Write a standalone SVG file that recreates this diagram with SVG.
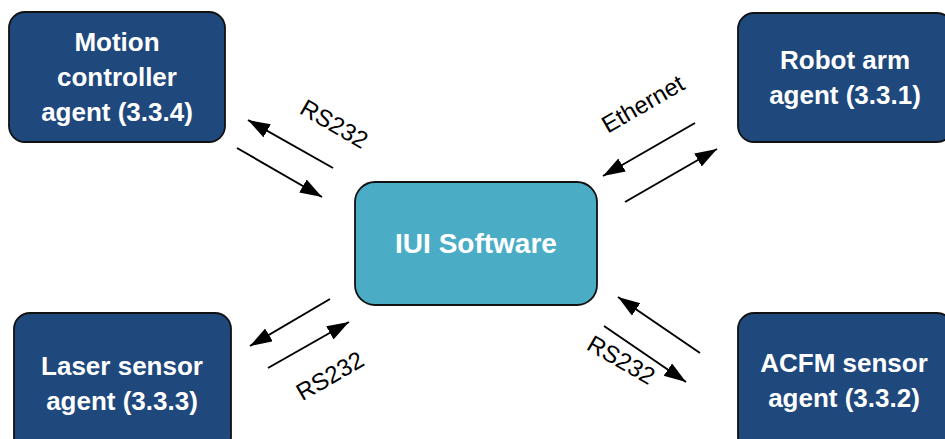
<svg xmlns="http://www.w3.org/2000/svg" width="945" height="439" viewBox="0 0 945 439">
<style>
.agent{fill:#1F487C;stroke:#111;stroke-width:1.8}
.core{fill:#4BACC6;stroke:#111;stroke-width:1.8}
.lbl{font-family:"Liberation Sans",Arial,sans-serif;font-weight:bold;font-size:26px;fill:#fff;text-anchor:middle}
.cl{font-family:"Liberation Sans",Arial,sans-serif;font-size:24px;fill:#000;text-anchor:middle}
.conn{stroke:#000;stroke-width:2;fill:none;marker-end:url(#ah)}
</style>
<defs>
<marker id="ah" markerUnits="userSpaceOnUse" markerWidth="24" markerHeight="16" refX="22" refY="7.5" orient="auto">
<path d="M0,0 L22,7.5 L0,15 z" fill="#000"/>
</marker>
</defs>
<rect width="945" height="439" fill="#fff"/>
<g id="motion">
<rect class="agent" x="9" y="12" width="216" height="130" rx="16"/>
<text class="lbl" x="117" y="51">Motion</text>
<text class="lbl" x="117" y="86">controller</text>
<text class="lbl" x="117" y="121">agent (3.3.4)</text>
</g>
<g id="robot">
<rect class="agent" x="738" y="13" width="215" height="129" rx="16"/>
<text class="lbl" x="845" y="69">Robot arm</text>
<text class="lbl" x="845" y="104">agent (3.3.1)</text>
</g>
<g id="laser">
<rect class="agent" x="14" y="313" width="217" height="140" rx="16"/>
<text class="lbl" x="122" y="375">Laser sensor</text>
<text class="lbl" x="122" y="410">agent (3.3.3)</text>
</g>
<g id="acfm">
<rect class="agent" x="738" y="313" width="215" height="140" rx="16"/>
<text class="lbl" x="844" y="372">ACFM sensor</text>
<text class="lbl" x="844" y="407">agent (3.3.2)</text>
</g>
<g id="iui">
<rect class="core" x="355" y="182" width="242" height="123" rx="20"/>
<text class="lbl" x="476" y="253" style="font-size:28px">IUI Software</text>
</g>
<g id="connectors">
<line class="conn" x1="333" y1="168" x2="248" y2="120"/>
<line class="conn" x1="237" y1="148" x2="322" y2="197"/>
<line class="conn" x1="695" y1="123" x2="603" y2="176"/>
<line class="conn" x1="625" y1="202" x2="717" y2="149"/>
<line class="conn" x1="330" y1="299" x2="250" y2="346"/>
<line class="conn" x1="268" y1="368" x2="349" y2="322"/>
<line class="conn" x1="700" y1="353" x2="618" y2="297"/>
<line class="conn" x1="604" y1="326" x2="686" y2="382"/>
<text class="cl" transform="translate(330,131) rotate(30)">RS232</text>
<text class="cl" transform="translate(647,111) rotate(-30)">Ethernet</text>
<text class="cl" transform="translate(334,383) rotate(-30)">RS232</text>
<text class="cl" transform="translate(617,367) rotate(30)">RS232</text>
</g>
</svg>
